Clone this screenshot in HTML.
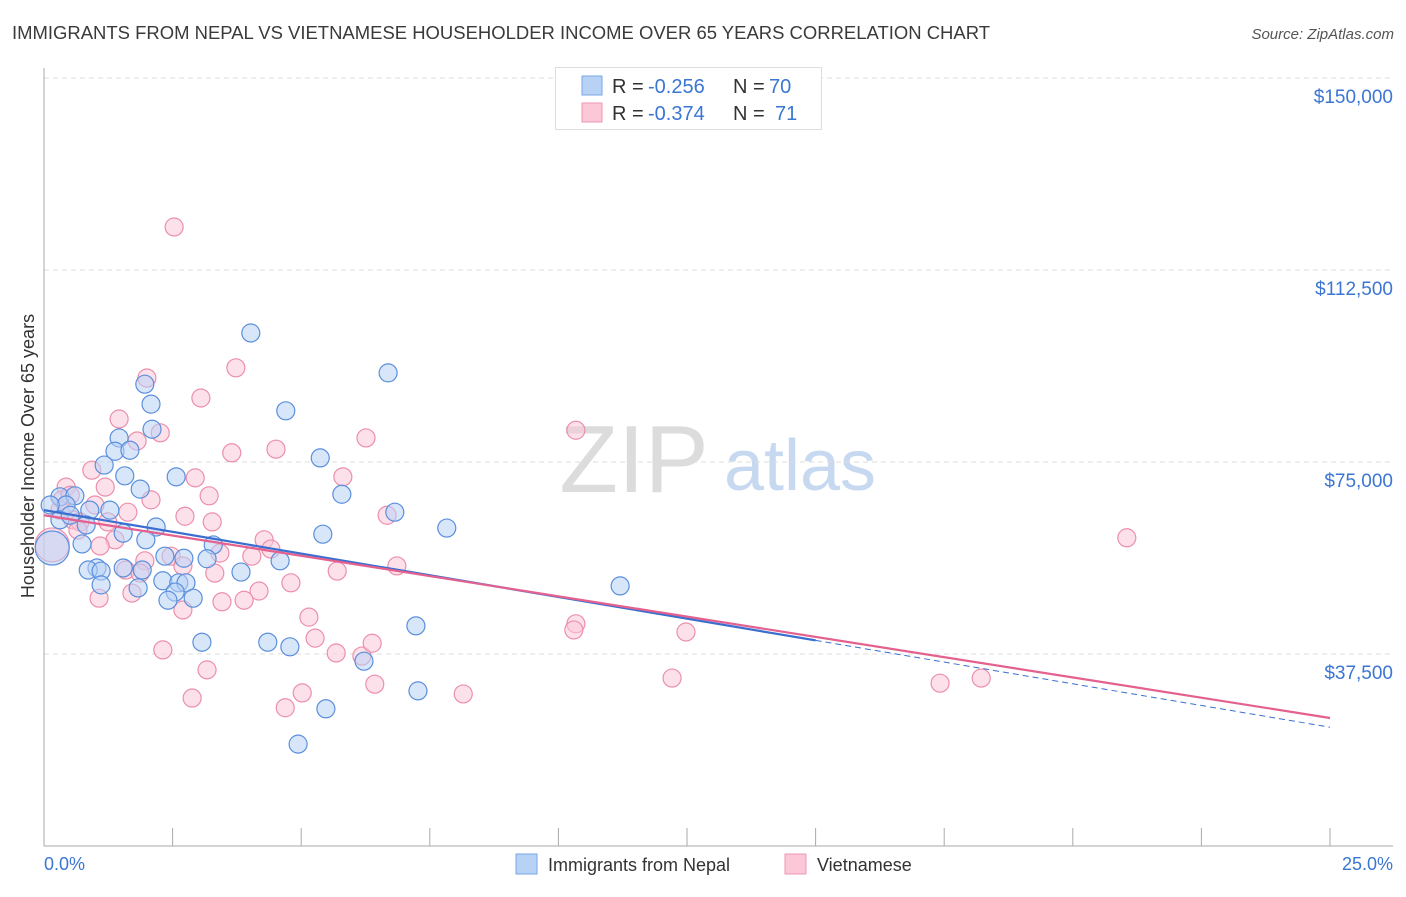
<!DOCTYPE html>
<html><head><meta charset="utf-8">
<style>
body{margin:0;background:#fff;font-family:"Liberation Sans",sans-serif;}
svg text{font-family:"Liberation Sans",sans-serif;}
</style></head>
<body>
<svg id="chart" width="1406" height="892" viewBox="0 0 1406 892">
<text x="12" y="39" font-size="18" fill="#3a3a3a" textLength="978" lengthAdjust="spacingAndGlyphs">IMMIGRANTS FROM NEPAL VS VIETNAMESE HOUSEHOLDER INCOME OVER 65 YEARS CORRELATION CHART</text>
<text x="1394" y="39" font-size="15" fill="#555" font-style="italic" text-anchor="end">Source: ZipAtlas.com</text>
<g>
<text x="634" y="492" font-size="96" fill="#dcdcdc" font-family="Liberation Serif" text-anchor="middle">ZIP</text>
<text x="800" y="490" font-size="72" fill="#c7d9f0" text-anchor="middle">atlas</text>
</g>
<g id="grid"></g>
<g id="axes"></g>
<g id="marks"></g>
<text transform="translate(34,456) rotate(-90)" font-size="18" fill="#333" text-anchor="middle">Householder Income Over 65 years</text>
<g>
<rect x="555.5" y="67.5" width="266" height="62" fill="#fff" stroke="#ddd"/>
<rect x="582" y="76" width="20" height="19" fill="#b8d2f5" stroke="#7aa6e6"/>
<rect x="582" y="103" width="20" height="19" fill="#fcc8d8" stroke="#ee95b0"/>
<text x="612" y="93" font-size="20" fill="#333">R =</text>
<text x="648" y="93" font-size="20" fill="#3a76d2">-0.256</text>
<text x="733" y="93" font-size="20" fill="#333">N =</text>
<text x="769" y="93" font-size="20" fill="#3a76d2">70</text>
<text x="612" y="120" font-size="20" fill="#333">R =</text>
<text x="648" y="120" font-size="20" fill="#3a76d2">-0.374</text>
<text x="733" y="120" font-size="20" fill="#333">N =</text>
<text x="775" y="120" font-size="20" fill="#3a76d2">71</text>
</g>
<g>
<rect x="516" y="854" width="21" height="20" fill="#b8d2f5" stroke="#7aa6e6"/>
<text x="548" y="871" font-size="18" fill="#333">Immigrants from Nepal</text>
<rect x="785" y="854" width="21" height="20" fill="#fcc8d8" stroke="#ee95b0"/>
<text x="817" y="871" font-size="18" fill="#333">Vietnamese</text>
</g>
</svg>
<script>
const yTicks=[37500,75000,112500,150000];
const yTickLabels=["$37,500","$75,000","$112,500","$150,000"];
const xEndLabels=["0.0%","25.0%"];
const nepalX=[4.02,6.69,1.96,2.08,4.70,2.10,1.46,1.38,1.67,5.37,1.17,2.57,1.57,1.87,5.79,0.31,0.60,0.43,0.89,1.28,6.82,7.83,2.18,1.54,5.42,1.98,0.74,3.29,2.35,2.72,3.17,4.59,1.03,1.54,0.86,1.11,3.83,1.91,2.31,2.62,2.76,1.11,1.83,11.20,2.55,2.41,2.90,7.23,3.07,4.35,4.78,6.22,7.27,5.48,4.94,0.16,0.31,0.82,0.12,0.51];
const nepalY=[100.2,92.4,90.2,86.3,85.0,81.4,79.7,77.1,77.3,75.8,74.4,72.1,72.3,69.7,68.7,68.2,68.4,66.6,65.6,65.6,65.2,62.1,62.3,61.1,60.9,59.8,59.0,58.8,56.6,56.2,56.1,55.7,54.3,54.3,53.9,53.7,53.5,53.9,51.8,51.4,51.4,51.0,50.4,50.8,49.6,48.0,48.4,43.0,39.8,39.8,38.9,36.1,30.3,26.8,19.9,58.2,63.7,62.7,66.6,64.6];
const vietX=[2.53,3.73,2.00,3.05,1.46,2.26,6.26,10.34,1.81,4.51,3.65,0.93,5.81,2.94,0.43,1.19,2.08,3.21,0.35,2.74,1.63,3.27,6.67,0.56,0.70,1.24,4.28,1.38,1.09,2.47,3.42,4.04,21.05,4.41,1.96,2.70,5.70,6.86,1.59,4.80,1.87,3.32,4.18,1.71,1.07,2.70,3.46,3.89,5.15,10.34,10.30,12.48,5.27,5.68,6.18,6.38,2.31,3.17,5.02,8.15,12.21,17.42,18.22,4.69,2.88,6.43,0.16,0.31,0.99,0.51,0.66];
const vietY=[120.9,93.4,91.4,87.5,83.4,80.7,79.7,81.2,79.1,77.5,76.8,73.4,72.1,71.9,70.1,70.1,67.6,68.4,67.6,64.4,65.2,63.3,64.6,63.7,63.3,63.3,59.8,59.8,58.6,56.6,57.2,56.6,60.2,58.0,55.7,54.7,53.7,54.7,53.9,51.4,53.3,53.3,49.8,49.4,48.4,46.1,47.7,48.0,44.7,43.4,42.2,41.8,40.6,37.7,37.1,39.6,38.3,34.4,29.9,29.7,32.8,31.8,32.8,27.0,28.9,31.6,58.8,65.6,66.6,68.5,61.7];
const nepalTrend=[65.6,23.2];
const vietTrend=[64.6,25.0];
const nepalSolidEnd=15;

const NS="http://www.w3.org/2000/svg";
const xs=v=>44+v/25*1286;
const ys=v=>846-v/37.5*192;
function mk(tag,attrs,parent){const e=document.createElementNS(NS,tag);for(const k in attrs)e.setAttribute(k,attrs[k]);parent.appendChild(e);return e;}
const grid=document.getElementById('grid'),axes=document.getElementById('axes'),marks=document.getElementById('marks');
yTicks.forEach((t,i)=>{
  const y=ys(t/1000);
  const l=mk('line',{x1:44,x2:1393,y1:y,y2:y,stroke:'#ddd','stroke-dasharray':'5,4'},grid);
  
  
  const tx=mk('text',{x:1393,y:y+25,'font-size':19,fill:'#3a76d2','text-anchor':'end'},axes);
  tx.textContent=yTickLabels[i];
  
  
});
const ya=mk('line',{x1:44,x2:44,y1:68,y2:846,stroke:'#aaa'},axes);


const xa=mk('line',{x1:44,x2:1393,y1:846,y2:846,stroke:'#aaa'},axes);


for(let i=0;i<=10;i++){
  const x=xs(i*2.5);
  const t=mk('line',{x1:x,x2:x,y1:828,y2:846,stroke:'#aaa'},axes);
  
  
}
[[0,'start',xEndLabels[0],44],[25,'end',xEndLabels[1],1393]].forEach(a=>{
  const t=mk('text',{x:a[3],y:870,'font-size':18,fill:'#3a76d2','text-anchor':a[1]},axes);
  t.textContent=a[2];
  
  
});
function dots(X,Y,fill,stroke,name,bigIdx){
  X.forEach((x,i)=>{
    const c=mk('circle',{cx:xs(x),cy:ys(Y[i]),r:i===bigIdx?17:9,fill:fill,'fill-opacity':0.55,stroke:stroke,'stroke-width':1.2},marks);
    
    
  });
}
dots(vietX,vietY,'#fcc8d8','#ec8fab','vietnamese-point',66);
dots(nepalX,nepalY,'#b8d2f5','#5b8fdc','nepal-point',55);
const ny=x=>nepalTrend[0]+(nepalTrend[1]-nepalTrend[0])*x/25;
const vy=x=>vietTrend[0]+(vietTrend[1]-vietTrend[0])*x/25;
const l1=mk('line',{x1:xs(0),y1:ys(ny(0)),x2:xs(nepalSolidEnd),y2:ys(ny(nepalSolidEnd)),stroke:'#3a6fd0','stroke-width':2.2},marks);


const l2=mk('line',{x1:xs(nepalSolidEnd),y1:ys(ny(nepalSolidEnd)),x2:xs(25),y2:ys(ny(25)),stroke:'#3a6fd0','stroke-width':1,'stroke-dasharray':'6,4'},marks);


const l3=mk('line',{x1:xs(0),y1:ys(vy(0)),x2:xs(25),y2:ys(vy(25)),stroke:'#e4608f','stroke-width':2.2},marks);


</script>
</body></html>
